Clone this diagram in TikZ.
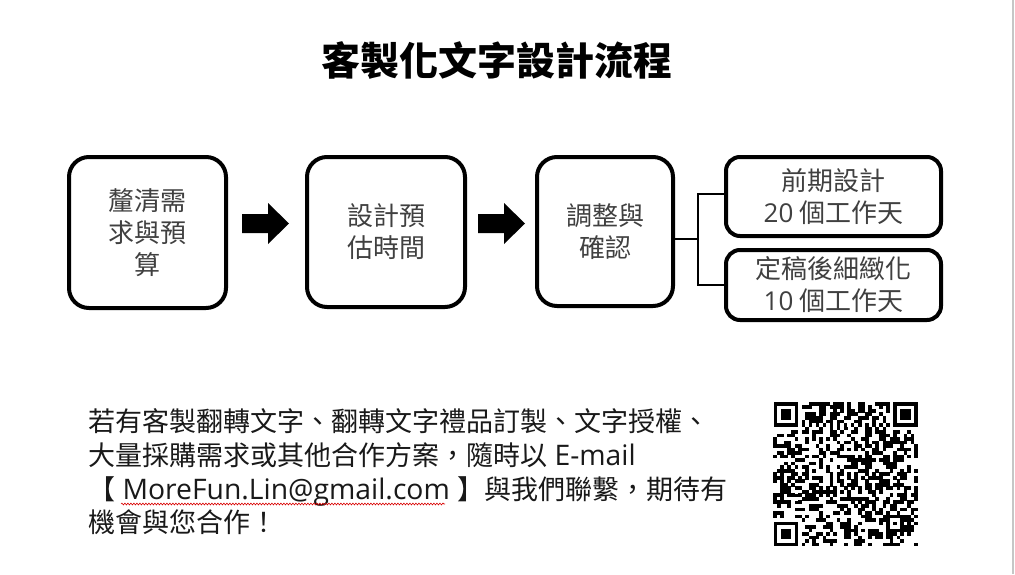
\documentclass[tikz,border=0pt]{standalone}
\usepackage{fontspec}
\setmainfont{Noto Sans CJK TC}
\newfontfamily\latinfont{Open Sans}
\usetikzlibrary{calc,decorations.pathmorphing}
\definecolor{boxtext}{HTML}{404040}
\tikzset{
  stepbox/.style={draw=black, line width=4pt, rounded corners=20pt, fill=white,
    align=center, text=boxtext, font=\fontsize{26}{32}\selectfont, inner sep=0pt},
  subbox/.style={stepbox, rounded corners=14pt},
  conn/.style={draw=black, line width=1.4pt},
  infoline/.style={anchor=base west, inner sep=0pt, font=\fontsize{27}{34}\selectfont, text=black!90},
}
\newcommand\latinbig{\latinfont\fontsize{28.3}{34}\selectfont}
\newcommand\blockarrow[1]{%
  \fill[black] (#1) ++(0,-9.5) -- ++(26,0) -- ++(0,-11) -- ++(21,20.5) -- ++(-21,20.5) -- ++(0,-11) -- ++(-26,0) -- cycle;}
\begin{document}
\begin{tikzpicture}[x=1pt, y=-1pt]
\useasboundingbox (0,0) rectangle (1015,574);
\fill[white] (0,0) rectangle (1015,574);
\draw[gray!45, line width=1.2pt] (1013,0) -- (1013,574);

% title
\node[font=\fontsize{39}{44}\selectfont\bfseries, inner sep=0pt] (title) at (497,61) {客製化文字設計流程};

% boxes
\node[stepbox, minimum width=157pt, minimum height=151pt] (b1) at (147.5,232.5) {釐清需\\求與預\\算};
\node[stepbox, minimum width=158pt, minimum height=150pt] (b2) at (386,232) {設計預\\估時間};
\node[stepbox, minimum width=136pt, minimum height=149pt] (b3) at (605,231.5) {調整與\\確認};
\node[subbox, minimum width=215pt, minimum height=79pt] (b4) at (833.5,196.5) {前期設計\\{\latinfont 20} 個工作天};
\node[subbox, minimum width=215pt, minimum height=70pt] (b5) at (833.5,285) {定稿後細緻化\\{\latinfont 10} 個工作天};

% block arrows
\coordinate (a1) at ($(b1.east)+(14,0)$);
\coordinate (a1) at (a1 |- 0,223.5);
\blockarrow{a1}
\coordinate (a2) at ($(b2.east)+(11,0)$);
\coordinate (a2) at (a2 |- 0,223.5);
\blockarrow{a2}

% bracket connector
\coordinate (j) at (698,239);
\draw[conn] (b3.east |- j) -- (j);
\draw[conn] (b4.west |- 0,194) -| (j) |- (b5.west);

% info text
\node[infoline] (l1) at (88,431) {若有客製翻轉文字、翻轉文字禮品訂製、文字授權、};
\node[infoline] (l2) at (88,465) {大量採購需求或其他合作方案，隨時以{\latinbig\ E-mail}};
\node[infoline] (l3) at (88,499) {【{\latinbig\ MoreFun.Lin@gmail.com\ }】與我們聯繫，期待有};
\node[infoline] (l4) at (88,532) {機會與您合作！};
\draw[red!85!black, line width=0.6pt, decorate, decoration={snake, amplitude=0.9pt, segment length=3pt}] (121,504) -- (445,504);

% QR code (41 x 41 modules)
\begin{scope}[shift={(773.5,402)}, x=3.52pt, y=-3.52pt]
  \pgfmathsetseed{2024}
  \foreach \r in {0,...,40}{
    \foreach \c in {0,...,40}{
      \pgfmathrandominteger{\qrbit}{0}{1}
      \ifnum\qrbit=1 \fill[black] (\c-0.03,\r-0.03) rectangle (\c+1.03,\r+1.03);\fi
    }
  }
  \fill[white] (-0.1,-0.1) rectangle (8,8);
  \fill[white] (33,-0.1) rectangle (41.1,8);
  \fill[white] (-0.1,33) rectangle (8,41.1);
  \foreach \fx/\fy in {0/0,34/0,0/34}{
    \fill[black] (\fx,\fy) rectangle ++(7,7);
    \fill[white] (\fx+1,\fy+1) rectangle ++(5,5);
    \fill[black] (\fx+2,\fy+2) rectangle ++(3,3);
  }
  \fill[white] (8,6) rectangle (33,7);
  \fill[white] (6,8) rectangle (7,33);
  \foreach \i in {8,10,...,32}{
    \fill[black] (\i,6) rectangle ++(1,1);
    \fill[black] (6,\i) rectangle ++(1,1);
  }
  \fill[black] (32,32) rectangle (37,37);
  \fill[white] (33,33) rectangle (36,36);
  \fill[black] (34,34) rectangle (35,35);
  \fill[black] (8,33) rectangle ++(1,1);
\end{scope}
\end{tikzpicture}
\end{document}
